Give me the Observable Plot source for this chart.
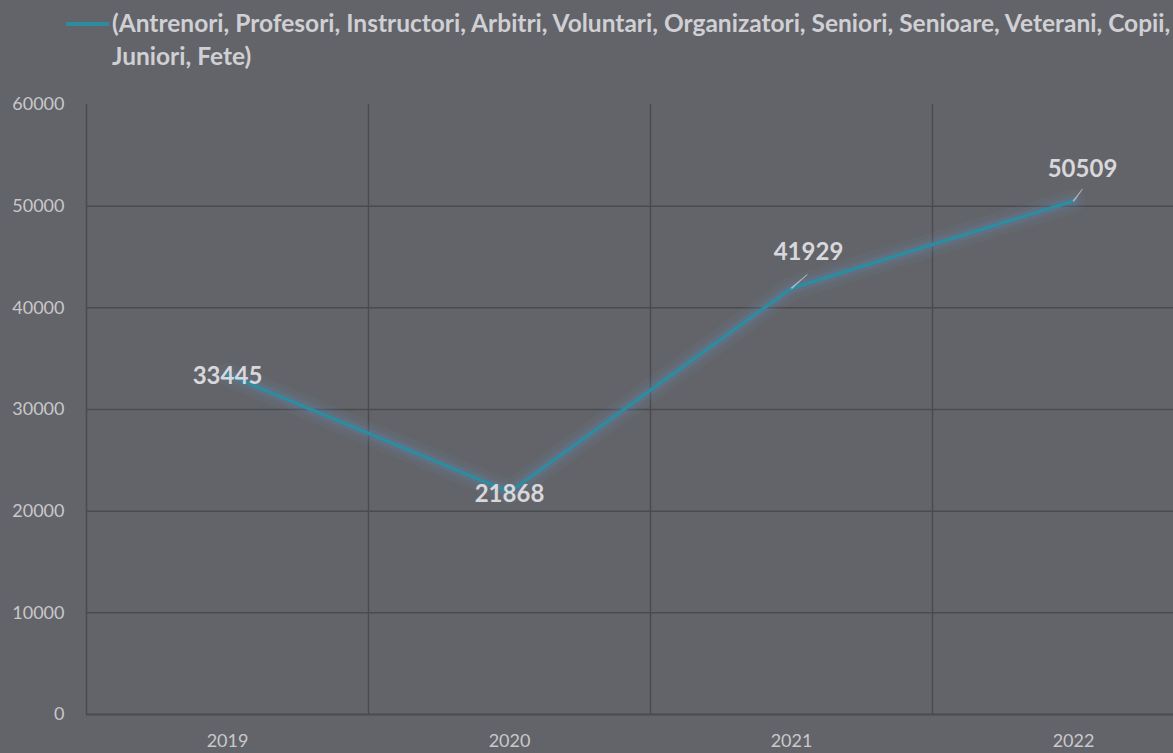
<!DOCTYPE html>
<html>
<head>
<meta charset="utf-8">
<script src="https://cdn.jsdelivr.net/npm/d3@7"></script>
<script src="https://cdn.jsdelivr.net/npm/@observablehq/plot@0.6"></script>
<style>
  html, body { margin: 0; padding: 0; background: #636469; overflow: hidden; }
  #legend { position: relative; height: 80px; font-family: Lato, "Open Sans", sans-serif; font-weight: bold; font-size: 24.5px; color: #d0d0d4; }
  #legend .swatch { position: absolute; left: 66px; top: 22px; width: 43px; height: 4px; background: #2e8ca0; }
  #legend .txt { position: absolute; left: 112px; top: 6px; line-height: 33px; white-space: nowrap; }
  #chart svg { display: block; }
</style>
</head>
<body>
<div id="legend"><div class="swatch"></div><div class="txt" id="legtxt"></div></div>
<div id="chart"></div>
<script>
const seriesName = "(Antrenori, Profesori, Instructori, Arbitri, Voluntari, Organizatori, Seniori, Senioare, Veterani, Copii, Juniori, Fete)";
const legendLines = ["(Antrenori, Profesori, Instructori, Arbitri, Voluntari, Organizatori, Seniori, Senioare, Veterani, Copii,", "Juniori, Fete)"];
const years = ["2019", "2020", "2021", "2022"];
const values = [33445, 21868, 41929, 50509];
const yTicks = [0, 10000, 20000, 30000, 40000, 50000, 60000];

document.getElementById("legtxt").innerHTML = legendLines.join("<br>");

const data = years.map((y, i) => ({i, year: y, value: values[i]}));
const boundaries = years.map((_, i) => i - 0.5);
const gridY = yTicks.filter(t => t > 0 && t < 60000);

const centered = data.filter(d => d.i < 2);

const textColor = "#c8c8cc";
const gridColor = "#4a4b4f";
const lineColor = "#2e8ca0";
const glowColor = "#6587b5";

const glow = [[24, 0.08], [16, 0.11], [10, 0.14]].map(([w, o]) =>
  Plot.line(data, {x: "i", y: "value", stroke: glowColor, strokeWidth: w, strokeOpacity: o}));

const chart = Plot.plot({
  width: 1173,
  height: 673,
  marginTop: 24,
  marginBottom: 39,
  marginLeft: 86,
  marginRight: 0,
  style: {background: "#636469", fontFamily: "Lato, 'Open Sans', sans-serif", fontSize: "18px", overflow: "visible"},
  x: {type: "linear", domain: [-0.5, years.length - 0.5], range: [86, 1214], label: null},
  y: {domain: [0, 60000], label: null},
  marks: [
    Plot.ruleY(gridY, {stroke: gridColor, strokeWidth: 1.5}),
    Plot.ruleX(boundaries, {stroke: gridColor, strokeWidth: 1.5}),
    Plot.ruleY([0], {stroke: gridColor, strokeWidth: 2}),
    Plot.axisY({ticks: yTicks, tickFormat: d3.format("d"), tickSize: 0, tickPadding: 22, fontSize: 18, color: textColor, label: null}),
    Plot.axisX({ticks: years.map((_, i) => i), tickFormat: i => years[i], tickSize: 0, tickPadding: 20, fontSize: 18, color: textColor, label: null}),
    ...glow,
    Plot.line(data, {x: "i", y: "value", stroke: lineColor, strokeWidth: 3.5}),
    Plot.vector([data[2]], {x: "i", y: "value", length: 21, rotate: 49, anchor: "start", shape: "spike", r: 0.6, fill: "#b8b8bc", stroke: "#b8b8bc", strokeWidth: 0.6}),
    Plot.vector([data[3]], {x: "i", y: "value", length: 15, rotate: 37, anchor: "start", shape: "spike", r: 0.6, fill: "#b8b8bc", stroke: "#b8b8bc", strokeWidth: 0.6}),
    Plot.text(centered, {x: "i", y: "value", text: d => String(d.value), fontSize: 24, fontWeight: "bold", fill: "#d8d8dc", dy: 2}),
    Plot.text([data[2]], {x: "i", y: "value", text: d => String(d.value), fontSize: 24, fontWeight: "bold", fill: "#d8d8dc", dx: 17, dy: -36}),
    Plot.text([data[3]], {x: "i", y: "value", text: d => String(d.value), fontSize: 24, fontWeight: "bold", fill: "#d8d8dc", dx: 9, dy: -32})
  ]
});
document.getElementById("chart").appendChild(chart);
</script>
</body>
</html>
